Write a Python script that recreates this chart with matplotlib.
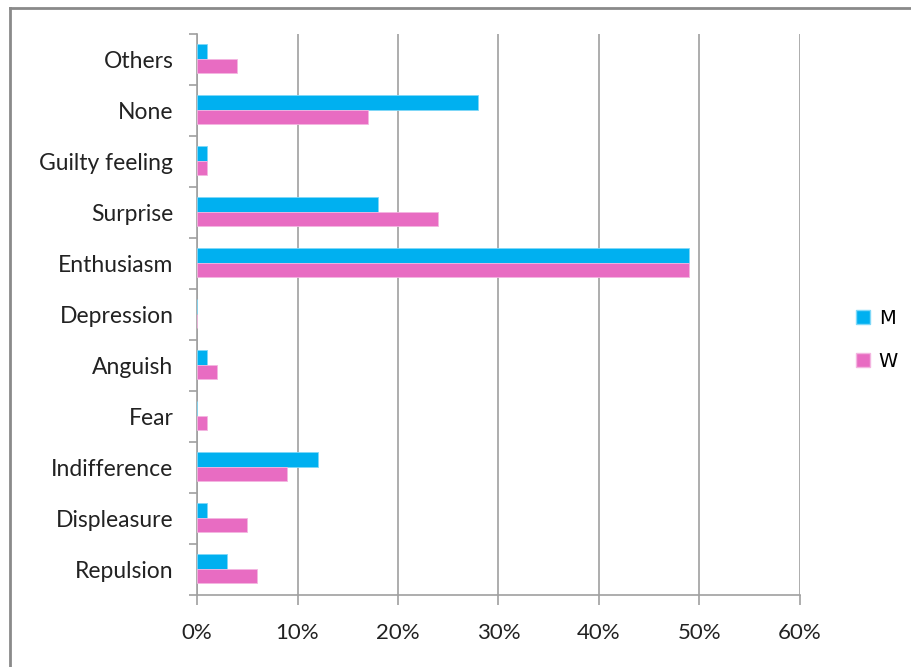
import matplotlib
matplotlib.use("Agg")
import matplotlib.pyplot as plt
from matplotlib.lines import Line2D
from matplotlib.patches import Patch
import numpy as np

categories = ["Repulsion", "Displeasure", "Indifference", "Fear", "Anguish",
              "Depression", "Enthusiasm", "Surprise", "Guilty feeling", "None", "Others"]
men = [3, 1, 12, 0, 1, 0, 49, 18, 1, 28, 1]
women = [6, 5, 9, 1, 2, 0, 49, 24, 1, 17, 4]
x_ticks = [0, 10, 20, 30, 40, 50, 60]
x_labels = ["0%", "10%", "20%", "30%", "40%", "50%", "60%"]

blue = "#00B0F0"
pink = "#E86CC2"
grid_gray = "#A0A0A0"

plt.rcParams["font.family"] = ["Lato", "DejaVu Sans"]

fig = plt.figure(figsize=(9.11, 6.67), dpi=100)
ax = fig.add_axes([197 / 911, 1 - 595 / 667, 603 / 911, 561 / 667])

pos = np.arange(len(categories))
h = 0.285
ax.barh(pos + h / 2 + 0.015, men, height=h, color=blue, edgecolor="#7FD8F8",
        linewidth=0.6, label="M", zorder=3)
ax.barh(pos - h / 2 + 0.015, women, height=h, color=pink, edgecolor="#F3B5E0",
        linewidth=0.6, label="W", zorder=3)

ax.set_xlim(0, 60)
ax.set_ylim(-0.5, len(categories) - 0.5)

ax.set_xticks(x_ticks)
ax.set_xticklabels(x_labels, fontsize=16, color="#222222")
ax.tick_params(axis="x", direction="out", length=7, width=1.2, color=grid_gray, pad=13)

# category boundaries carry the tick marks, centers carry the labels
ax.set_yticks(np.arange(len(categories) + 1) - 0.5)
ax.set_yticklabels([])
ax.set_yticks(pos, minor=True)
ax.set_yticklabels(categories, minor=True, fontsize=16.5, color="#222222")
ax.tick_params(axis="y", which="major", direction="out", length=6, width=1.2, color=grid_gray)
ax.tick_params(axis="y", which="minor", length=0, pad=17)

ax.grid(axis="x", color=grid_gray, linewidth=1.2, zorder=0)
ax.set_axisbelow(True)
for side in ["top", "right"]:
    ax.spines[side].set_visible(False)
for side in ["left", "bottom"]:
    ax.spines[side].set_color(grid_gray)
    ax.spines[side].set_linewidth(1.2)

handles = [Patch(facecolor=blue, edgecolor="#7FD8F8", label="M"),
           Patch(facecolor=pink, edgecolor="#F3B5E0", label="W")]
fig.legend(handles=handles, loc="center left", bbox_to_anchor=(838 / 911, 1 - 340 / 667),
           frameon=False, handlelength=0.75, handleheight=0.75,
           handletextpad=0.45, labelspacing=1.25, prop={"family": "DejaVu Sans", "size": 14})

# outer chart frame (top and left edges)
fig.add_artist(Line2D([10 / 911, 1.0], [1 - 8 / 667, 1 - 8 / 667], color="#8A8A8A",
                      linewidth=2, transform=fig.transFigure))
fig.add_artist(Line2D([10 / 911, 10 / 911], [1 - 8 / 667, 0.0], color="#8A8A8A",
                      linewidth=2, transform=fig.transFigure))

fig.savefig("out.png", dpi=100, facecolor="white")
